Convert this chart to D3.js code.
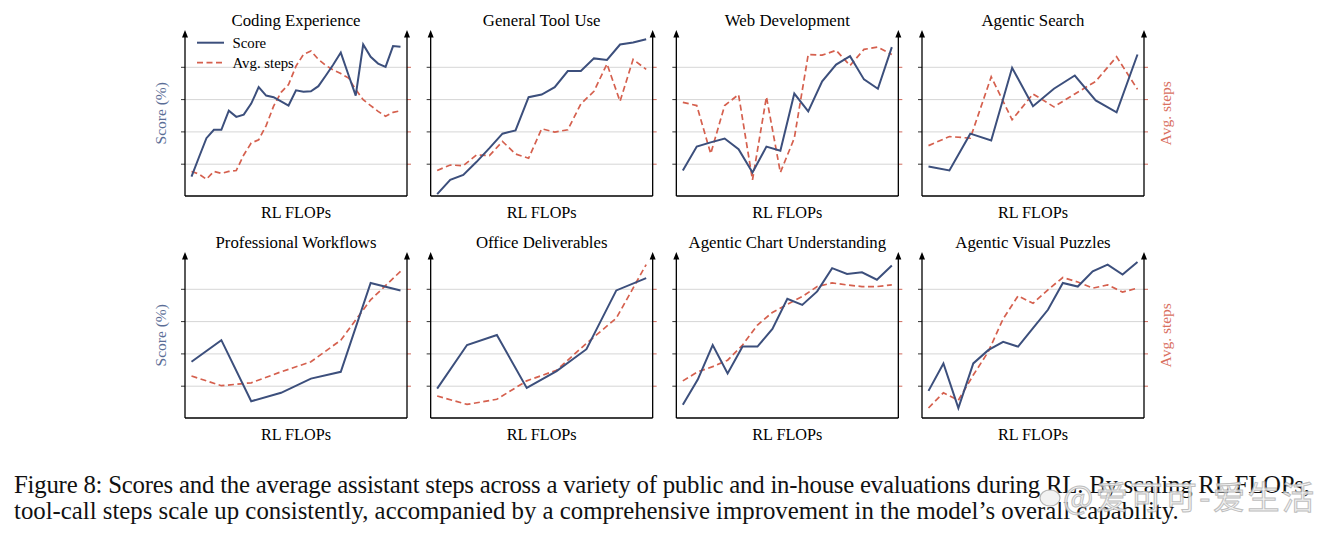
<!DOCTYPE html>
<html>
<head>
<meta charset="utf-8">
<script src="https://cdn.jsdelivr.net/npm/d3@7"></script>
<style>
	body { margin: 0; background: #fff; }
	text { font-family: 'Liberation Serif', 'DejaVu Serif', serif; }
</style>
</head>
<body>
<div id="chart-area"></div>
<script>

//**************** Data *****************//

let panelTitles = ['Coding Experience', 'General Tool Use', 'Web Development', 'Agentic Search',
	'Professional Workflows', 'Office Deliverables', 'Agentic Chart Understanding', 'Agentic Visual Puzzles'];

// score / avg. steps (no tick labels, so arbitrary units 0-5)
let codingScore = [0.60, 1.20, 1.79, 2.05, 2.05, 2.64, 2.45, 2.52, 2.86, 3.37, 3.11, 3.06, 2.93, 2.80, 3.27,
	3.23, 3.24, 3.40, 3.73, 4.07, 4.44, 3.77, 3.11, 4.69, 4.31, 4.10, 4.00, 4.64, 4.62];
let codingSteps = [0.76, 0.68, 0.52, 0.76, 0.70, 0.76, 0.79, 1.27, 1.64, 1.74, 2.18, 2.78, 3.21, 3.45, 4.02,
	4.38, 4.49, 4.23, 4.04, 3.90, 3.79, 3.66, 3.30, 2.98, 2.80, 2.62, 2.47, 2.59, 2.64];

let toolScore = [0.06, 0.50, 0.65, 1.05, 1.48, 1.93, 2.03, 3.06, 3.14, 3.37, 3.87, 3.87, 4.26, 4.21, 4.69, 4.75, 4.85];
let toolSteps = [0.79, 0.96, 0.94, 1.27, 1.25, 1.69, 1.30, 1.17, 2.08, 1.98, 2.05, 2.85, 3.24, 4.09, 2.93, 4.23, 3.92];

let webScore = [0.79, 1.53, 1.66, 1.78, 1.45, 0.73, 1.53, 1.40, 3.17, 2.62, 3.55, 4.07, 4.33, 3.61, 3.32, 4.61];
let webSteps = [2.90, 2.80, 1.31, 2.80, 3.14, 0.50, 3.07, 0.73, 1.79, 4.38, 4.36, 4.51, 4.04, 4.54, 4.61, 4.38];

let searchScore = [0.91, 0.79, 1.93, 1.72, 3.97, 2.78, 3.32, 3.73, 2.96, 2.59, 4.38];
let searchSteps = [1.56, 1.84, 1.79, 3.69, 2.36, 3.16, 2.76, 3.16, 3.55, 4.31, 3.30];

let workflowScore = [1.74, 2.41, 0.52, 0.78, 1.22, 1.43, 4.18, 3.95];
let workflowSteps = [1.30, 1.00, 1.09, 1.43, 1.74, 2.41, 3.66, 4.54];

let officeScore = [0.91, 2.26, 2.57, 0.93, 1.45, 2.13, 3.95, 4.33];
let officeSteps = [0.68, 0.42, 0.58, 1.15, 1.48, 2.31, 3.09, 4.75];

let chartScore = [0.41, 1.19, 2.26, 1.38, 2.21, 2.21, 2.76, 3.69, 3.50, 3.92, 4.64, 4.46, 4.51, 4.28, 4.72];
let chartSteps = [1.15, 1.43, 1.59, 1.79, 2.26, 2.88, 3.27, 3.52, 3.76, 4.07, 4.18, 4.12, 4.07, 4.07, 4.12];

let puzzleScore = [0.84, 1.69, 0.31, 1.69, 2.10, 2.36, 2.21, 2.78, 3.35, 4.18, 4.07, 4.54, 4.75, 4.44, 4.83];
let puzzleSteps = [0.31, 0.78, 0.55, 1.33, 2.05, 3.07, 3.78, 3.55, 3.97, 4.35, 4.21, 4.02, 4.12, 3.90, 4.02];

let scoreSeries = [codingScore, toolScore, webScore, searchScore, workflowScore, officeScore, chartScore, puzzleScore];
let stepSeries = [codingSteps, toolSteps, webSteps, searchSteps, workflowSteps, officeSteps, chartSteps, puzzleSteps];

let gridTicks = [1, 2, 3, 4];
let xLabel = 'RL FLOPs';
let legendLabels = ['Score', 'Avg. steps'];
let captionLines = [
	'Figure 8: Scores and the average assistant steps across a variety of public and in-house evaluations during RL. By scaling RL FLOPs,',
	'tool-call steps scale up consistently, accompanied by a comprehensive improvement in the model\u2019s overall capability.'
];
let watermark = '@\u7231\u53ef\u53ef-\u7231\u751f\u6d3b';

let scoreColor = '#3c4f7c';
let stepColor = '#d5604e';

//************* Canvas Set Up *************//

let svg = d3.select('#chart-area').append('svg')
	.attr('width', 1332)
	.attr('height', 534);

let panelW = 222;
let panelH = 161.5;
let colX = d3.scaleLinear().domain([0, 3]).range([185, 922]);
let rowBottom = [196, 418];

let y = d3.scaleLinear().domain([0, 5]).range([panelH, 0]);

panelTitles.forEach((title, p) => {
	let col = p % 4, row = Math.floor(p / 4);
	let g = svg.append('g')
		.attr('transform', 'translate(' + colX(col) + ', ' + (rowBottom[row] - panelH) + ')');

	let n = scoreSeries[p].length;
	let x = d3.scaleLinear().domain([0, n - 1]).range([6.5, panelW - 6.5]);

	// gridlines
	g.append('g')
		.attr('class', 'grid')
		.call(d3.axisLeft(y).tickValues(gridTicks).tickSize(-panelW).tickFormat(''))
		.call(s => s.select('.domain').remove())
		.call(s => s.selectAll('line').attr('stroke', '#d6d6d6').attr('stroke-width', 1));

	// ticks both sides
	g.append('g')
		.call(d3.axisLeft(y).tickValues(gridTicks).tickSize(4).tickFormat(''))
		.call(s => s.select('.domain').remove())
		.call(s => s.selectAll('line').attr('stroke', '#333').attr('stroke-width', 1));
	g.append('g')
		.attr('transform', 'translate(' + panelW + ', 0)')
		.call(d3.axisRight(y).tickValues(gridTicks).tickSize(4).tickFormat(''))
		.call(s => s.select('.domain').remove())
		.call(s => s.selectAll('line').attr('stroke', '#cf6a5c').attr('stroke-width', 1));

	// axis lines with arrows
	[0, panelW].forEach(ax => {
		g.append('line')
			.attr('x1', ax).attr('x2', ax)
			.attr('y1', panelH).attr('y2', 1)
			.attr('stroke', '#000').attr('stroke-width', 1.3);
		g.append('path')
			.attr('d', 'M' + (ax - 3) + ',3 L' + ax + ',-4.5 L' + (ax + 3) + ',3 Z')
			.attr('fill', '#000');
	});
	g.append('line')
		.attr('x1', 0).attr('x2', panelW)
		.attr('y1', panelH).attr('y2', panelH)
		.attr('stroke', '#000').attr('stroke-width', 1.3);

	let line = d3.line()
		.x((d, i) => x(i))
		.y(d => y(d));

	g.append('path')
		.datum(stepSeries[p])
		.attr('d', line)
		.attr('fill', 'none')
		.attr('stroke', stepColor)
		.attr('stroke-width', 1.7)
		.attr('stroke-dasharray', '6,3.5');

	g.append('path')
		.datum(scoreSeries[p])
		.attr('d', line)
		.attr('fill', 'none')
		.attr('stroke', scoreColor)
		.attr('stroke-width', 2);

	// title
	g.append('text')
		.attr('x', panelW / 2)
		.attr('y', -8.5)
		.attr('font-size', '16.8px')
		.attr('text-anchor', 'middle')
		.text(title);

	// x label
	g.append('text')
		.attr('x', panelW / 2)
		.attr('y', panelH + 22)
		.attr('font-size', '16.2px')
		.attr('text-anchor', 'middle')
		.text(xLabel);

	// y labels
	if (col === 0) {
		g.append('text')
			.attr('transform', 'translate(-19, ' + (panelH / 2 - 2) + ') rotate(-90)')
			.attr('font-size', '15.5px')
			.attr('text-anchor', 'middle')
			.attr('fill', '#5a6d96')
			.text('Score (%)');
	}
	if (col === 3) {
		g.append('text')
			.attr('transform', 'translate(' + (panelW + 27) + ', ' + (panelH / 2 - 2) + ') rotate(-90)')
			.attr('font-size', '15.5px')
			.attr('text-anchor', 'middle')
			.attr('fill', '#d9705f')
			.text('Avg. steps');
	}

	// legend in first panel
	if (p === 0) {
		legendLabels.forEach((lab, k) => {
			let ly = 8.2 + k * 20;
			g.append('line')
				.attr('x1', 12).attr('x2', 39)
				.attr('y1', ly).attr('y2', ly)
				.attr('stroke', k === 0 ? scoreColor : stepColor)
				.attr('stroke-width', k === 0 ? 2 : 1.7)
				.attr('stroke-dasharray', k === 0 ? null : '6,3.5');
			g.append('text')
				.attr('x', 47.5)
				.attr('y', ly)
				.attr('dy', '0.35em')
				.attr('font-size', '14.8px')
				.text(lab);
		});
	}
});

// caption
captionLines.forEach((t, i) => {
	let txt = svg.append('text')
		.attr('x', 14)
		.attr('y', 493 + i * 26)
		.attr('font-size', '24.8px')
		.attr('fill', '#111')
		.text(t);
	if (i === 0) txt.attr('textLength', 1296).attr('lengthAdjust', 'spacing');
});

// watermark
svg.append('ellipse')
	.attr('cx', 1050).attr('cy', 498)
	.attr('rx', 10).attr('ry', 8)
	.attr('fill', '#f2f2f2')
	.attr('stroke', '#b8b8b8')
	.attr('stroke-width', 1.2);
svg.append('text')
	.attr('x', 1063)
	.attr('y', 509)
	.attr('font-size', '32px')
	.attr('letter-spacing', '2.5px')
	.style('font-family', "'Noto Sans CJK SC', sans-serif")
	.attr('fill', '#f2f2f2')
	.attr('stroke', '#b8b8b8')
	.attr('stroke-width', 1)
	.attr('opacity', 0.9)
	.text(watermark);

</script>
</body>
</html>
